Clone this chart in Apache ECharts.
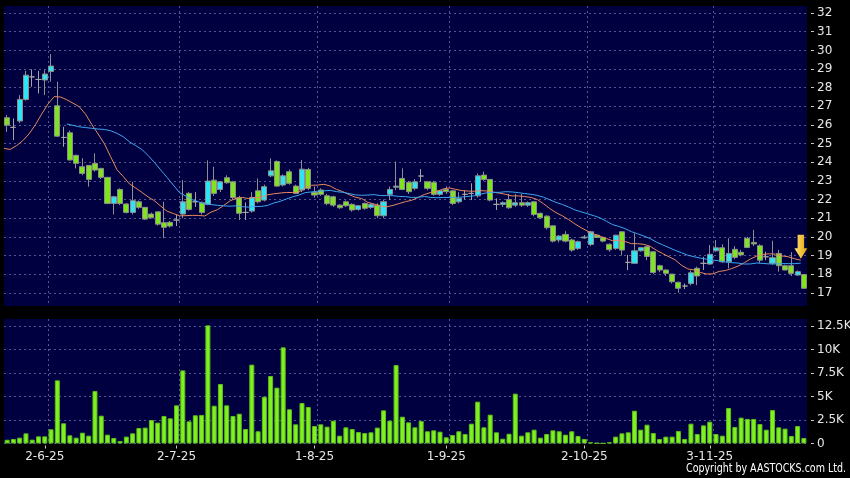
<!DOCTYPE html>
<html><head><meta charset="utf-8">
<script src="https://cdn.jsdelivr.net/npm/echarts@6/dist/echarts.min.js"></script>
<style>html,body{margin:0;padding:0;background:#000;}#c{width:850px;height:478px;}</style>
</head><body><div id="c"></div>
<script>
const categories = [
'23-5-25','26-5-25','27-5-25','28-5-25','29-5-25','30-5-25',
'2-6-25','3-6-25','4-6-25','5-6-25','6-6-25','9-6-25','10-6-25','11-6-25','12-6-25','13-6-25','16-6-25','17-6-25','18-6-25','19-6-25','20-6-25','23-6-25','24-6-25','25-6-25','26-6-25','27-6-25','30-6-25',
'2-7-25','3-7-25','4-7-25','7-7-25','8-7-25','9-7-25','10-7-25','11-7-25','14-7-25','15-7-25','16-7-25','17-7-25','18-7-25','21-7-25','22-7-25','23-7-25','24-7-25','25-7-25','28-7-25','29-7-25','30-7-25','31-7-25',
'1-8-25','4-8-25','5-8-25','6-8-25','7-8-25','8-8-25','11-8-25','12-8-25','13-8-25','14-8-25','15-8-25','18-8-25','19-8-25','20-8-25','21-8-25','22-8-25','25-8-25','26-8-25','27-8-25','28-8-25','29-8-25',
'1-9-25','2-9-25','3-9-25','4-9-25','5-9-25','8-9-25','9-9-25','10-9-25','11-9-25','12-9-25','15-9-25','16-9-25','17-9-25','18-9-25','19-9-25','22-9-25','23-9-25','24-9-25','25-9-25','26-9-25','29-9-25','30-9-25',
'2-10-25','3-10-25','6-10-25','8-10-25','9-10-25','10-10-25','13-10-25','14-10-25','15-10-25','16-10-25','17-10-25','20-10-25','21-10-25','22-10-25','23-10-25','24-10-25','27-10-25','28-10-25','30-10-25','31-10-25',
'3-11-25','4-11-25','5-11-25','6-11-25','7-11-25','10-11-25','11-11-25','12-11-25','13-11-25','14-11-25','17-11-25','18-11-25','19-11-25','20-11-25','21-11-25','24-11-25'];

const labelDates = ['2-6-25','2-7-25','1-8-25','1-9-25','2-10-25','3-11-25'];

const opens = [
26.39,25.87,26.21,27.37,28.58,28.44,28.41,28.87,27.03,25.33,
25.58,24.37,23.76,23.83,23.94,23.67,23.19,21.79,22.54,21.76,
21.31,21.88,21.58,21.22,21.34,20.76,20.78,20.90,21.22,22.33,
21.88,21.83,21.76,23.04,22.54,23.17,22.95,22.09,21.31,21.38,
22.47,21.97,23.27,24.04,22.78,23.49,22.72,22.51,23.61,22.38,
22.51,22.20,22.15,21.70,21.88,21.74,21.47,21.79,21.58,21.70,
21.13,22.28,22.66,23.13,22.92,22.60,23.26,22.95,22.92,22.28,
22.54,22.47,21.88,22.28,22.33,22.20,23.31,23.08,21.74,21.74,
22.00,21.70,21.83,21.70,21.88,21.26,21.11,20.59,19.83,20.13,
19.83,19.38,19.94,19.59,20.09,19.97,19.60,19.38,20.27,18.63,
18.58,19.25,19.47,19.20,18.45,18.22,18.00,17.56,17.36,17.50,
18.31,18.58,18.54,19.25,19.41,18.66,19.33,19.17,19.92,19.70,
19.52,18.93,18.58,19.11,18.45,18.45,17.95,17.98];

const closes = [
25.99,25.87,27.37,28.67,28.58,28.44,28.73,29.16,25.40,25.33,
24.12,23.94,23.40,23.08,23.58,23.19,21.79,22.15,21.79,21.31,
21.94,21.58,20.95,21.02,20.68,20.51,20.58,20.90,21.88,21.47,
21.88,21.31,22.99,22.33,22.95,22.90,22.11,21.26,21.31,22.11,
21.88,22.69,23.54,22.72,23.27,22.87,22.33,23.63,22.60,22.24,
22.28,21.78,21.70,21.56,21.67,21.44,21.67,21.53,21.74,21.13,
21.88,22.54,22.72,22.54,22.42,22.95,23.26,22.60,22.28,22.47,
22.42,21.79,22.06,22.28,22.33,23.27,23.08,21.97,21.74,21.83,
21.56,21.83,21.70,21.83,21.20,21.02,20.49,19.77,20.04,19.77,
19.29,19.74,19.99,20.27,19.97,19.77,19.31,20.09,19.29,18.63,
19.25,19.42,18.95,18.09,18.22,18.04,17.59,17.24,17.36,18.07,
17.90,18.58,19.06,19.41,18.66,19.11,18.90,19.03,19.43,19.62,
18.75,18.93,18.88,18.45,18.22,18.04,18.13,17.24];

const lows = [
25.63,25.19,26.10,27.30,28.05,27.69,27.60,28.32,25.35,24.83,
24.10,23.67,23.30,22.69,23.50,23.10,21.75,21.20,21.70,21.25,
21.20,21.50,20.90,21.00,20.60,19.93,20.50,20.58,21.00,21.40,
21.60,21.20,21.70,22.20,22.40,22.85,22.00,20.90,20.90,21.30,
21.80,21.90,23.20,22.70,22.70,22.80,22.30,22.40,22.50,22.10,
22.20,21.70,21.60,21.50,21.60,21.35,21.40,21.45,21.50,21.00,
21.00,21.97,22.50,22.50,22.30,22.50,22.95,22.50,22.20,22.20,
22.30,21.70,21.80,22.00,21.97,22.10,23.00,21.90,21.44,21.60,
21.50,21.60,21.60,21.60,21.10,20.95,20.40,19.70,19.70,19.70,
19.20,19.30,19.90,19.50,19.95,19.70,19.20,19.30,19.00,18.22,
18.55,19.20,18.75,18.00,18.10,17.90,17.50,17.00,17.20,17.40,
17.41,18.22,18.50,19.20,18.60,18.31,18.80,18.95,19.40,19.50,
18.60,18.75,18.50,18.13,18.20,17.90,17.90,17.20];

const highs = [
26.53,26.35,27.60,28.90,28.98,28.90,28.94,29.80,28.32,25.90,
25.70,24.40,24.22,23.85,24.48,23.70,23.20,22.20,22.60,21.80,
22.95,21.95,21.60,21.30,21.35,21.88,20.85,21.17,23.04,22.40,
22.40,21.90,24.10,23.76,23.00,23.30,23.00,22.20,21.85,22.40,
23.13,22.80,24.21,24.10,23.35,23.60,22.80,24.12,23.70,22.70,
22.60,22.30,22.20,21.75,21.95,21.80,21.70,21.85,21.80,21.80,
22.00,22.70,24.04,23.67,23.00,23.10,23.63,23.00,23.00,22.50,
22.70,22.50,22.40,22.50,22.87,23.40,23.50,23.10,22.06,21.90,
22.30,22.30,22.30,21.90,21.90,21.30,21.15,20.60,20.10,20.30,
19.90,19.80,20.10,20.30,20.15,20.00,19.65,20.10,20.30,19.03,
20.19,19.45,19.50,19.20,18.50,18.25,18.00,17.60,17.50,18.20,
18.40,18.93,19.56,19.83,19.60,19.92,19.50,19.30,20.00,20.37,
19.60,19.20,19.79,19.30,18.50,19.18,18.20,18.00];

const volumes = [
400,480,620,1080,410,760,760,1510,6720,2150,
870,620,1150,830,5590,2960,940,590,270,730,
1080,1650,1690,2500,2220,2930,2680,4060,7780,2360,
3000,3040,12570,4020,6330,4060,2930,3170,1540,8390,
1300,4980,7180,5940,10230,3640,2040,4310,3880,1860,
2040,1790,2430,830,1720,1540,1220,1120,1190,1690,
3530,2430,8350,2850,2250,1720,2400,1300,1400,1260,
660,900,1300,1010,2110,4450,1720,3070,1190,510,
1040,5300,830,1190,1470,620,1010,1400,1300,940,
1300,800,480,130,60,30,130,730,1080,1190,
3490,1470,2000,1120,480,730,730,1330,480,2110,
1010,1930,2320,1010,830,3780,1760,2750,2610,2610,
2070,1470,3560,1720,1580,800,1860,590];

const priceTicks = [17,18,19,20,21,22,23,24,25,26,27,28,29,30,31,32];
const volumeTicks = [0,2500,5000,7500,10000,12500];

const ma10Lead = [24.74,24.69,24.89,25.16,25.52,26.01,26.58,27.12,27.52,27.50]; // bars -1..8
const ma20Lead = [26.05,25.98,25.90,25.86,25.82,25.78,25.76,25.69,25.55,25.37]; // bars 9..18
const maLastBar = 126;
const arrowValue = 19.47;

function sma(n, j) { let s = 0; for (let k = j - n + 1; k <= j; k++) s += closes[k]; return s / n; }
const ma10 = [];
for (let j = -1; j <= maLastBar; j++) ma10.push([j + 0.5, j < 9 ? ma10Lead[j + 1] : sma(10, j)]);
const ma20 = [];
for (let j = 9; j <= maLastBar; j++) ma20.push([j + 0.5, j < 19 ? ma20Lead[j - 9] : sma(20, j)]);

const splitPositions = labelDates.map(d => categories.indexOf(d) + 0.5);
const candles = opens.map((o, i) => [o, closes[i], lows[i], highs[i]]);

const gridLine = { show: true, lineStyle: { color: '#56568e', width: 1, type: [2, 3] } };
const labelFont = { color: '#e6e6e6', fontFamily: 'DejaVu Sans', fontSize: 12 };
const nBars = categories.length;

const chart = echarts.init(document.getElementById('c'), null, { renderer: 'canvas' });
chart.setOption({
  animation: false,
  backgroundColor: '#000000',
  grid: [
    { left: 4, right: 43, top: 6, height: 300, show: true, backgroundColor: '#000040', borderWidth: 0, containLabel: false, outerBoundsMode: 'none' },
    { left: 4, right: 43, top: 319, height: 124.5, show: true, backgroundColor: '#000040', borderWidth: 0, containLabel: false, outerBoundsMode: 'none' }
  ],
  xAxis: [
    { type: 'category', gridIndex: 0, data: categories, boundaryGap: true, show: false,
      axisLine: { show: false, onZero: false }, splitLine: { show: false } },
    { type: 'category', gridIndex: 1, data: categories, boundaryGap: true, position: 'bottom', offset: 2,
      axisLine: { show: false, onZero: false },
      axisTick: { show: true, alignWithLabel: true, length: 3, interval: (i, v) => labelDates.includes(v), lineStyle: { color: '#c8c8c8' } },
      axisLabel: Object.assign({ interval: (i, v) => labelDates.includes(v), margin: 5 }, labelFont),
      splitLine: { show: false } },
    { type: 'value', gridIndex: 0, min: -0.5, max: nBars - 0.5,
      axisLine: { show: false, onZero: false }, axisTick: { show: false, customValues: splitPositions },
      axisLabel: { show: false, customValues: splitPositions }, splitLine: gridLine },
    { type: 'value', gridIndex: 1, min: -0.5, max: nBars - 0.5,
      axisLine: { show: false, onZero: false }, axisTick: { show: false, customValues: splitPositions },
      axisLabel: { show: false, customValues: splitPositions }, splitLine: gridLine }
  ],
  yAxis: [
    { type: 'value', gridIndex: 0, position: 'right', min: 16.29, max: 32.38, offset: 4, scale: true,
      axisLine: { show: false, onZero: false },
      axisTick: { show: true, length: 3, customValues: priceTicks, lineStyle: { color: '#c8c8c8' } },
      axisLabel: Object.assign({ customValues: priceTicks, margin: 6 }, labelFont),
      splitLine: gridLine },
    { type: 'value', gridIndex: 1, position: 'right', min: 0, max: 13246, offset: 4,
      axisLine: { show: false, onZero: false },
      axisTick: { show: true, length: 3, customValues: volumeTicks, lineStyle: { color: '#c8c8c8' } },
      axisLabel: Object.assign({ customValues: volumeTicks, margin: 6,
        formatter: v => v === 0 ? '0' : (v / 1000) + 'K' }, labelFont),
      splitLine: gridLine }
  ],
  series: [
    { type: 'candlestick', xAxisIndex: 0, yAxisIndex: 0, data: candles, barWidth: 5.6,
      itemStyle: { color: '#2CE4F4', color0: '#7EE41E', borderColor: '#8e8e8e', borderColor0: '#8e8e8e', borderColorDoji: '#a4a4a4', borderWidth: 1 },
      markPoint: {
        silent: true, animation: false,
        data: [{ coord: [nBars - 1, arrowValue],
          symbol: 'path://M3,0 L9,0 L9,13 L12,13 L6,23 L0,13 L3,13 Z',
          symbolSize: [13, 24], symbolOffset: [-3, 0],
          itemStyle: { color: { type: 'linear', x: 0, y: 0, x2: 1, y2: 0,
            colorStops: [{ offset: 0, color: '#FFE680' }, { offset: 1, color: '#E6A000' }] } },
          label: { show: false } }]
      } },
    { type: 'line', xAxisIndex: 2, yAxisIndex: 0, data: ma10, showSymbol: false, symbol: 'none',
      lineStyle: { color: '#E8895C', width: 1 }, z: 5 },
    { type: 'line', xAxisIndex: 2, yAxisIndex: 0, data: ma20, showSymbol: false, symbol: 'none',
      lineStyle: { color: '#3DA6EE', width: 1 }, z: 5 },
    { type: 'bar', xAxisIndex: 1, yAxisIndex: 1, data: volumes, barWidth: 5,
      itemStyle: { color: '#80F020', borderColor: '#5BBE18', borderWidth: 1 } }
  ],
  graphic: [
    { type: 'text', right: 4, top: 463, scaleX: 0.88,
      style: { text: 'Copyright by AASTOCKS.com Ltd.', fill: '#ffffff', font: '12px "DejaVu Sans Condensed", "DejaVu Sans"' } }
  ]
});
</script>
</body></html>
